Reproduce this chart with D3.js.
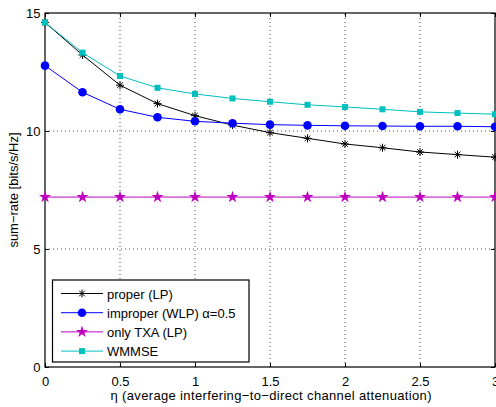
<!DOCTYPE html>
<html>
<head>
<meta charset="utf-8">
<script src="https://cdn.jsdelivr.net/npm/d3@7"></script>
<style>
  body { margin: 0; background: #fff; }
  svg { display: block; font-family: "Liberation Sans", Arial, sans-serif; }
</style>
</head>
<body>
<svg id="chart" width="496" height="407"></svg>
<script>
// Données
const eta = [0, 0.25, 0.5, 0.75, 1, 1.25, 1.5, 1.75, 2, 2.25, 2.5, 2.75, 3];
const proper = [14.6, 13.22, 11.94, 11.16, 10.65, 10.25, 9.93, 9.69, 9.45, 9.29, 9.11, 9.0, 8.89];
const improper = [12.77, 11.64, 10.92, 10.58, 10.41, 10.33, 10.27, 10.24, 10.22, 10.21, 10.2, 10.2, 10.18];
const onlyTxa = [7.2, 7.2, 7.2, 7.2, 7.2, 7.2, 7.2, 7.2, 7.2, 7.2, 7.2, 7.2, 7.2];
const wmmse = [14.6, 13.32, 12.33, 11.83, 11.57, 11.38, 11.24, 11.11, 11.02, 10.92, 10.81, 10.76, 10.71];

const xTicks = [0, 0.5, 1, 1.5, 2, 2.5, 3];
const yTicks = [0, 5, 10, 15];

const series = [
  { name: "proper (LP)", values: proper, color: "#000000", marker: "asterisk" },
  { name: "improper (WLP) α=0.5", values: improper, color: "#0000ff", marker: "circle" },
  { name: "only TXA (LP)", values: onlyTxa, color: "#bf00bf", marker: "star" },
  { name: "WMMSE", values: wmmse, color: "#00bfbf", marker: "square" },
];

const margin = { left: 45, top: 13, right: 1, bottom: 40 };
const width = 496, height = 407;

const svg = d3.select("#chart");

const x = d3.scaleLinear().domain([0, 3]).range([margin.left, width - margin.right]);
const y = d3.scaleLinear().domain([0, 15]).range([height - margin.bottom, margin.top]);

// Grille pointillée
const grid = svg.append("g");
grid.selectAll(".gx")
  .data(xTicks.slice(1, -1))
  .enter()
  .append("line")
  .attr("x1", (d) => x(d)).attr("x2", (d) => x(d))
  .attr("y1", y(0)).attr("y2", y(15))
  .attr("stroke", "#000").attr("stroke-width", 0.7)
  .attr("stroke-dasharray", "1,3");
grid.selectAll(".gy")
  .data(yTicks.slice(1, -1))
  .enter()
  .append("line")
  .attr("x1", x(0)).attr("x2", x(3))
  .attr("y1", (d) => y(d)).attr("y2", (d) => y(d))
  .attr("stroke", "#000").attr("stroke-width", 0.7)
  .attr("stroke-dasharray", "1,3");

// Axes (ticks vers l'intérieur, style MATLAB)
const fmt = (d) => String(d);
svg.append("g")
  .attr("transform", "translate(0," + y(0) + ")")
  .call(d3.axisBottom(x).tickValues(xTicks).tickFormat(fmt).tickSizeInner(-4).tickSizeOuter(0).tickPadding(10))
  .call((g) => g.select(".domain").remove());
svg.append("g")
  .attr("transform", "translate(0," + y(15) + ")")
  .call(d3.axisTop(x).tickValues(xTicks).tickFormat("").tickSizeInner(-4).tickSizeOuter(0))
  .call((g) => g.select(".domain").remove());
svg.append("g")
  .attr("transform", "translate(" + x(0) + ",0)")
  .call(d3.axisLeft(y).tickValues(yTicks).tickFormat(fmt).tickSizeInner(-4).tickSizeOuter(0).tickPadding(4.5))
  .call((g) => g.select(".domain").remove());
svg.append("g")
  .attr("transform", "translate(" + x(3) + ",0)")
  .call(d3.axisRight(y).tickValues(yTicks).tickFormat("").tickSizeInner(-4).tickSizeOuter(0))
  .call((g) => g.select(".domain").remove());

svg.selectAll(".tick text").style("font-size", "13px").attr("fill", "#000");
svg.selectAll(".tick line").attr("stroke", "#000");

// Cadre
svg.append("rect")
  .attr("x", x(0)).attr("y", y(15))
  .attr("width", x(3) - x(0)).attr("height", y(0) - y(15))
  .attr("fill", "none").attr("stroke", "#000").attr("stroke-width", 1.2);

// Marqueurs
function drawMarker(g, type, color, cx, cy) {
  if (type === "circle") {
    g.append("circle").attr("cx", cx).attr("cy", cy).attr("r", 4.3).attr("fill", color);
  } else if (type === "square") {
    g.append("rect").attr("x", cx - 3).attr("y", cy - 3).attr("width", 6).attr("height", 6).attr("fill", color);
  } else if (type === "star") {
    g.append("path")
      .attr("d", d3.symbol().type(d3.symbolStar).size(45)())
      .attr("transform", "translate(" + cx + "," + cy + ")")
      .attr("fill", color);
  } else if (type === "asterisk") {
    const r = 4;
    [0, 45, 90, 135].forEach((a) => {
      const rad = (a * Math.PI) / 180;
      g.append("line")
        .attr("x1", cx - r * Math.cos(rad)).attr("y1", cy - r * Math.sin(rad))
        .attr("x2", cx + r * Math.cos(rad)).attr("y2", cy + r * Math.sin(rad))
        .attr("stroke", color).attr("stroke-width", 1);
    });
  }
}

const line = d3.line().x((d, i) => x(eta[i])).y((d) => y(d));

series.forEach((s) => {
  const g = svg.append("g");
  g.append("path")
    .datum(s.values)
    .attr("d", line)
    .attr("fill", "none")
    .attr("stroke", s.color)
    .attr("stroke-width", 1);
  s.values.forEach((v, i) => drawMarker(g, s.marker, s.color, x(eta[i]), y(v)));
});

// Libellés des axes
svg.append("text")
  .attr("x", (x(0) + x(3)) / 2 + 1)
  .attr("y", 400)
  .attr("text-anchor", "middle")
  .attr("textLength", 321)
  .attr("lengthAdjust", "spacing")
  .style("font-size", "13px")
  .text("η (average interfering−to−direct channel attenuation)");

svg.append("text")
  .attr("transform", "translate(18," + y(7.5) + ") rotate(-90)")
  .attr("text-anchor", "middle")
  .style("font-size", "13px")
  .text("sum−rate [bits/s/Hz]");

// Légende
const legend = svg.append("g");
legend.append("rect")
  .attr("x", 52.5).attr("y", 280)
  .attr("width", 196.5).attr("height", 82)
  .attr("fill", "#fff").attr("stroke", "#000").attr("stroke-width", 1.2);

series.forEach((s, i) => {
  const ly = 293.5 + i * 19.2;
  legend.append("line")
    .attr("x1", 61).attr("x2", 103)
    .attr("y1", ly).attr("y2", ly)
    .attr("stroke", s.color).attr("stroke-width", 1);
  drawMarker(legend, s.marker, s.color, 82, ly);
  legend.append("text")
    .attr("x", 107).attr("y", ly + 5)
    .style("font-size", "13px")
    .text(s.name);
});
</script>
</body>
</html>
